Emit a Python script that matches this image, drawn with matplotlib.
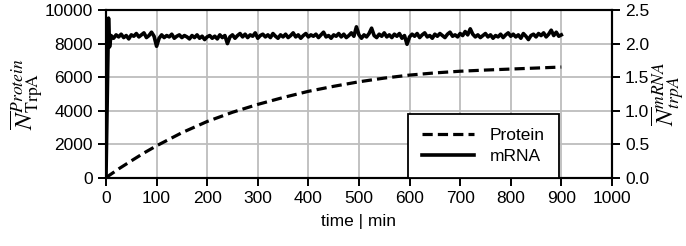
import numpy as np
import matplotlib.pyplot as plt

plt.rcParams['font.family'] = ['Liberation Sans', 'DejaVu Sans']
plt.rcParams['mathtext.fontset'] = 'stix'

# protein (left axis)
prot_t = [0, 25, 50, 75, 100, 150, 200, 250, 300, 350, 400, 450, 500, 550,
          600, 650, 700, 750, 800, 850, 900]
prot_n = [0, 520, 1000, 1470, 1900, 2680, 3350, 3900, 4370, 4780, 5150, 5450,
          5720, 5940, 6120, 6250, 6350, 6420, 6480, 6540, 6600]

# mRNA (right axis)
mrna_t = [0, 5, 7] + list(range(10, 901, 5))
mrna_n = [0.0, 2.38, 1.95,
          2.12, 2.08, 2.13, 2.10, 2.14, 2.09, 2.12, 2.07, 2.13, 2.11,
          2.15, 2.10, 2.13, 2.16, 2.09, 2.12, 2.17, 2.11, 1.96, 2.08,
          2.13, 2.09, 2.12, 2.10, 2.14, 2.08, 2.11, 2.13, 2.09, 2.12,
          2.10, 2.07, 2.12, 2.09, 2.13, 2.08, 2.11, 2.06, 2.10, 2.12,
          2.08, 2.11, 2.07, 2.13, 2.09, 2.12, 2.00, 2.10, 2.13, 2.08,
          2.12, 2.15, 2.10, 2.14, 2.09, 2.13, 2.11, 2.16, 2.08, 2.12,
          2.14, 2.10, 2.13, 2.09, 2.15, 2.11, 2.08, 2.13, 2.10, 2.14,
          2.09, 2.12, 2.16, 2.10, 2.13, 2.08, 2.12, 2.15, 2.10, 2.13,
          2.11, 2.14, 2.09, 2.13, 2.17, 2.10, 2.12, 2.08, 2.13, 2.11,
          2.15, 2.10, 2.14, 2.09, 2.12, 2.16, 2.11, 2.25, 2.13, 2.08,
          2.13, 2.10, 2.15, 2.23, 2.12, 2.09, 2.14, 2.11, 2.16, 2.10,
          2.13, 2.09, 2.14, 2.11, 2.15, 2.08, 2.12, 1.99, 2.10, 2.14,
          2.11, 2.15, 2.09, 2.13, 2.16, 2.10, 2.12, 2.08, 2.14, 2.11,
          2.15, 2.12, 2.09, 2.14, 2.17, 2.11, 2.13, 2.10, 2.15, 2.12,
          2.18, 2.13, 2.22, 2.14, 2.10, 2.13, 2.09, 2.12, 2.15, 2.10,
          2.13, 2.08, 2.12, 2.10, 2.14, 2.09, 2.13, 2.16, 2.11, 2.14,
          2.10, 2.13, 2.08, 2.15, 2.11, 2.06, 2.12, 2.14, 2.10, 2.15,
          2.12, 2.16, 2.10, 2.14, 2.20, 2.12, 2.17, 2.11, 2.13]

fig = plt.figure(figsize=(6.86, 2.46), dpi=100)
ax = fig.add_axes([0.1545, 0.278, 0.7375, 0.681])
ax2 = ax.twinx()

l1, = ax.plot(prot_t, prot_n, 'k--', lw=2.3, dashes=(3.2, 1.6), label='Protein')
l2, = ax2.plot(mrna_t, mrna_n, 'k-', lw=2.6, label='mRNA')

ax.set_xlim(0, 1000)
ax.set_ylim(0, 10000)
ax2.set_ylim(0, 2.5)
ax.set_xticks(np.arange(0, 1001, 100))
ax.set_yticks(np.arange(0, 10001, 2000))
ax2.set_yticks(np.arange(0, 2.51, 0.5))
ax2.set_yticklabels(['%.1f' % v for v in np.arange(0, 2.51, 0.5)])
ax.grid(True, color='#bdbdbd', lw=1.3)
ax.set_axisbelow(True)

for a in (ax, ax2):
    a.tick_params(labelsize=12.5, direction='out', length=6, width=1.4, colors='black')
    for s in a.spines.values():
        s.set_linewidth(1.5)

ax.set_xlabel('time | min', fontsize=12.5, labelpad=6)
ax.set_ylabel(r'$\overline{N}_{\mathrm{TrpA}}^{Protein}$', fontsize=18, labelpad=0)
ax2.set_ylabel(r'$\overline{N}_{trpA}^{mRNA}$', fontsize=18, labelpad=0)

leg = ax2.legend([l1, l2], ['Protein', 'mRNA'], loc='lower right',
                 bbox_to_anchor=(0.895, 0.0), borderaxespad=0, fontsize=12.5,
                 fancybox=False, framealpha=1, edgecolor='black',
                 handlelength=3.0, labelspacing=0.3, borderpad=0.8,
                 handletextpad=0.9)
leg.get_frame().set_linewidth(1.3)

plt.savefig('out.png', dpi=100)
